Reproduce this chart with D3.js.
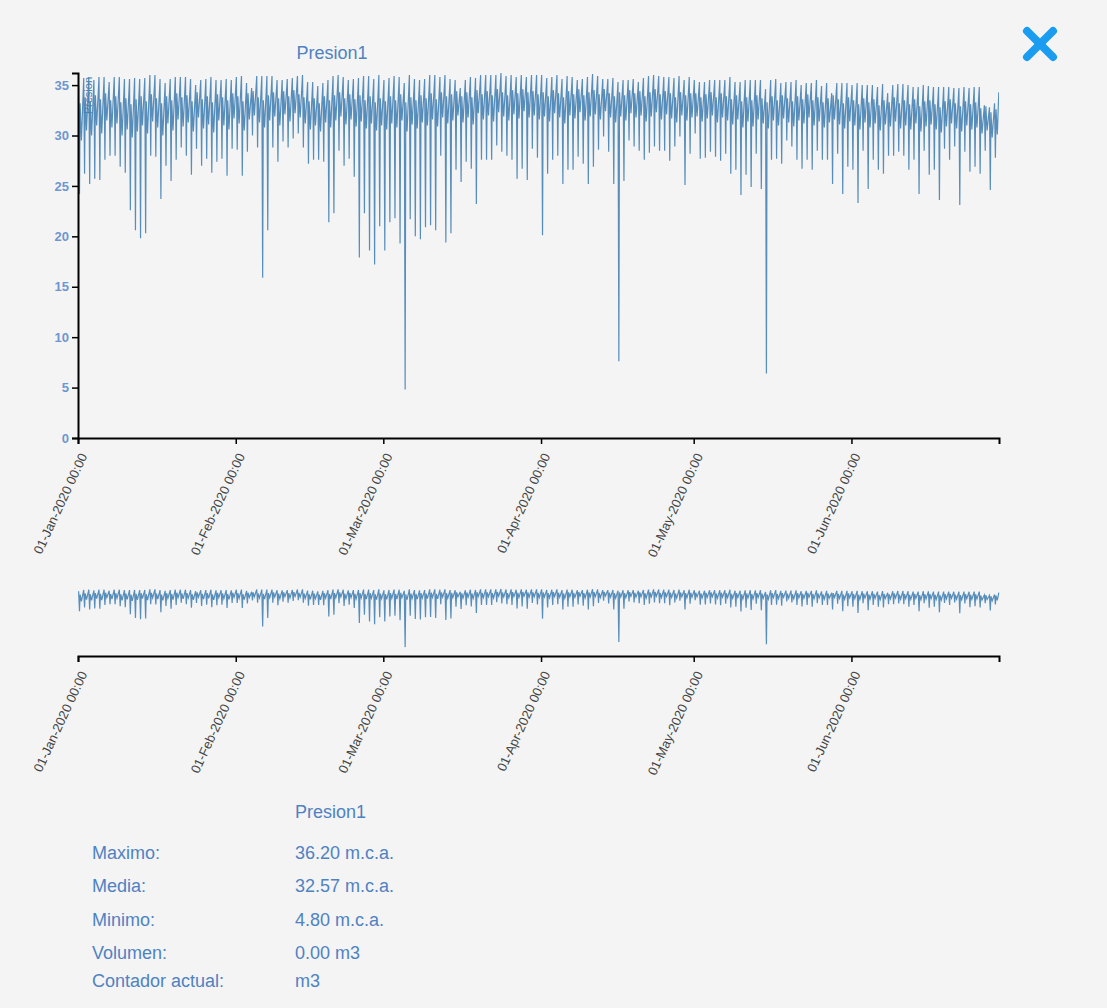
<!DOCTYPE html>
<html>
<head>
<meta charset="utf-8">
<script src="https://cdnjs.cloudflare.com/ajax/libs/d3/7.8.5/d3.min.js"></script>
<style>
  body { margin: 0; background: #f4f4f4; font-family: "Liberation Sans", Arial, sans-serif; }
  .axis path, .axis line { stroke: #000; }
  .axis path { stroke-width: 2; }
  .axis line { stroke-width: 1.5; }
  .y-axis text { fill: #6e96d0; font-weight: bold; font-size: 13px; }
  .x-axis text { fill: #444; font-size: 13px; }
  .title, .stats text { fill: #4f82c2; font-size: 18px; }
</style>
</head>
<body>
<div id="chart"></div>
<script>
// series: one entry per day, 01-Jan-2020 .. 29-Jun-2020
const startDay = new Date(2020, 0, 1);
const endDay = new Date(2020, 5, 30);

// night peak of each day (m.c.a.)
const dayMax = [
  35.0, 35.7, 35.8, 35.5, 35.8, 35.8, 35.3, 35.8, 35.8, 35.6, 35.6, 35.7, 35.6, 35.7, 36.0, 36.0, 35.6, 35.2, 35.6, 35.8,
  35.8, 35.8, 35.6, 35.0, 35.5, 35.6, 35.8, 35.5, 35.5, 35.6, 35.5, 35.8, 35.9, 35.2, 34.7, 35.9, 35.9, 35.9, 35.9, 35.5,
  35.5, 35.6, 35.7, 35.9, 36.0, 35.3,
  35.3, 34.9, 35.2, 35.5, 35.9, 36.0, 35.8, 35.5, 35.6, 35.7, 35.9, 35.9, 35.6, 36.0, 35.5, 35.7, 35.9, 35.8, 35.2, 36.0,
  35.6, 35.5, 35.6, 36.0, 36.0, 35.8, 36.0, 35.6, 35.5, 34.7, 35.5, 35.8, 35.7, 36.0, 36.0, 36.0, 36.0, 36.2, 35.9, 36.0,
  35.8, 36.0, 35.8, 36.0, 36.0, 36.0, 35.7,
  35.8, 36.0, 35.6, 35.9, 35.8, 35.5, 35.6, 35.8, 36.1, 35.9, 35.6, 35.6, 35.7, 35.3, 35.5, 35.5, 35.6, 35.3, 35.7, 35.9,
  36.0, 35.9, 35.8, 35.8, 35.7, 35.9, 35.5, 35.8, 35.5, 35.3, 35.3, 35.5, 35.5, 35.5, 35.5, 35.8, 35.3, 35.3, 35.5, 35.5,
  35.5, 35.5, 34.6,
  35.5, 35.6, 35.2, 35.3, 35.3, 35.5, 35.0, 35.2, 35.2, 35.5, 34.9, 35.2, 34.2, 35.2, 35.2, 35.2, 35.0, 35.2, 35.0, 35.0,
  35.0, 34.8, 35.1, 34.2, 35.0, 35.1, 35.1, 35.0, 34.8, 34.8, 35.0, 34.9, 34.8, 34.8, 34.8, 34.8, 34.7, 34.7, 34.8, 34.7,
  34.8, 34.8, 33.0, 32.8, 33.2
];

// morning dip of each day
const dayMin = [
  24.2, 26.2, 25.2, 25.7, 25.6, 27.6, 28.0, 28.0, 26.9, 26.3, 22.6, 20.6, 19.8, 20.3, 28.0, 27.9, 23.7, 27.0, 25.5, 27.6,
  28.8, 28.0, 26.1, 28.7, 27.0, 27.7, 26.3, 27.4, 27.7, 26.0, 28.7, 28.6, 26.0, 28.4, 30.0, 28.8, 15.9, 20.6, 28.8, 27.4,
  29.4, 28.8, 29.7, 30.2, 28.8, 27.2,
  27.6, 27.6, 27.4, 21.4, 22.3, 28.5, 27.0, 27.7, 25.9, 17.9, 22.3, 18.6, 17.2, 21.0, 18.6, 21.4, 21.8, 19.3, 4.8, 21.7,
  20.0, 19.7, 20.9, 21.1, 20.6, 28.0, 19.4, 20.3, 26.6, 25.4, 27.4, 26.7, 23.2, 27.6, 27.6, 27.6, 29.0, 28.4, 28.0, 27.6,
  25.7, 26.7, 25.6, 28.7, 27.8, 20.1, 26.2,
  27.6, 28.0, 25.2, 26.6, 26.6, 27.9, 27.2, 25.2, 26.9, 28.6, 29.9, 28.4, 25.2, 7.6, 25.5, 29.5, 28.9, 28.5, 27.6, 28.3,
  28.9, 28.5, 28.5, 27.5, 28.9, 29.9, 25.1, 28.2, 30.2, 27.7, 27.8, 28.4, 27.9, 27.5, 28.2, 26.2, 26.6, 24.1, 26.1, 24.9,
  28.2, 24.7, 6.4,
  27.6, 27.7, 27.2, 29.5, 28.9, 27.6, 26.7, 27.6, 26.6, 28.5, 27.6, 27.6, 25.2, 28.2, 24.2, 26.9, 26.6, 23.3, 28.5, 24.7,
  27.6, 26.6, 26.2, 28.0, 28.0, 28.4, 28.0, 26.6, 27.6, 24.2, 28.5, 26.1, 26.6, 23.6, 28.7, 27.6, 28.9, 23.1, 28.4, 26.4,
  26.9, 26.2, 28.5, 24.6, 27.8
];

// late-morning recovery of each day
const dayRecover = [
  33.2, 33.8, 33.4, 34.0, 33.6, 34.2, 33.5, 33.9, 33.3, 33.7, 33.1, 33.6, 33.9, 33.4, 34.1, 33.7, 33.2, 33.9, 33.5, 34.2,
  33.8, 34.0, 33.4, 34.3, 33.6, 33.9, 33.3, 34.1, 33.8, 33.5, 34.2,
  33.9, 33.4, 34.2, 34.4, 33.8, 33.5, 34.0, 34.3, 33.7, 34.4, 33.9, 34.5, 34.1, 33.8, 33.4, 33.7, 33.2, 33.9, 33.5, 34.0,
  34.3, 33.7, 34.1, 33.6, 34.0, 33.5, 33.9, 33.3, 33.7,
  33.4, 33.9, 33.5, 34.1, 33.3, 33.8, 33.5, 34.0, 33.7, 34.2, 33.6, 34.3, 33.9, 34.1, 34.4, 33.9, 34.3, 33.8, 34.5, 34.1,
  34.4, 34.0, 34.6, 34.3, 34.0, 34.5, 34.2, 34.6, 34.3, 34.4, 34.1,
  34.3, 33.9, 34.5, 34.2, 33.8, 34.4, 34.1, 34.6, 34.0, 34.3, 34.5, 34.1, 34.6, 34.2, 33.9, 34.3, 34.0, 34.5, 34.2, 34.4,
  33.9, 34.3, 34.6, 34.1, 34.4, 34.2, 33.8, 34.3, 34.0, 34.2,
  34.2, 33.8, 34.1, 34.3, 33.8, 34.2, 33.9, 33.6, 34.0, 33.4, 33.8, 33.5, 34.0, 33.7, 33.3, 33.9, 33.5, 34.0, 33.7, 33.4,
  33.9, 33.6, 34.1, 33.5, 33.8, 33.3, 33.7, 34.0, 33.6, 33.2, 33.8,
  33.5, 33.1, 33.7, 33.3, 33.6, 33.0, 33.5, 33.3, 33.8, 33.2, 33.5, 33.1, 33.6, 32.9, 33.4, 33.5, 33.1, 32.8, 33.4, 33.6,
  33.2, 32.9, 33.4, 33.1, 33.3, 32.7, 32.9, 32.3, 32.6
];

// afternoon level of each day
const dayLow = [
  29.5, 30.5, 30.0, 31.0, 30.2, 31.5, 30.8, 31.2, 30.0, 30.6, 29.8, 30.4, 31.0, 30.2, 31.4, 30.8, 30.0, 31.2, 30.5, 31.6,
  30.9, 31.3, 30.4, 31.8, 30.7, 31.1, 30.3, 31.5, 31.0, 30.6, 31.7,
  31.2, 30.5, 31.6, 32.0, 31.3, 30.8, 31.5, 31.9, 31.0, 32.1, 31.4, 32.2, 31.8, 31.2, 30.6, 31.0, 30.4, 31.3, 30.8, 31.5,
  31.9, 31.1, 31.6, 30.9, 31.4, 30.7, 31.2, 30.5, 31.0,
  30.6, 31.2, 30.8, 31.5, 30.4, 31.1, 30.7, 31.3, 31.0, 31.6, 30.9, 31.8, 31.2, 31.5, 32.0, 31.3, 31.8, 31.1, 32.2, 31.6,
  32.0, 31.4, 32.3, 31.9, 31.5, 32.1, 31.7, 32.4, 31.8, 32.0, 31.6,
  31.9, 31.4, 32.2, 31.8, 31.2, 32.0, 31.7, 32.3, 31.5, 31.9, 32.1, 31.6, 32.4, 31.8, 31.3, 31.9, 31.5, 32.2, 31.8, 32.0,
  31.4, 31.9, 32.3, 31.6, 32.1, 31.7, 31.3, 32.0, 31.5, 31.8,
  31.9, 31.4, 31.7, 32.0, 31.3, 31.8, 31.5, 31.1, 31.6, 30.8, 31.4, 30.9, 31.6, 31.2, 30.7, 31.5, 31.0, 31.7, 31.3, 30.9,
  31.5, 31.2, 31.8, 31.0, 31.4, 30.8, 31.3, 31.6, 31.1, 30.7, 31.4,
  31.0, 30.6, 31.3, 30.8, 31.2, 30.5, 31.1, 30.9, 31.4, 30.7, 31.0, 30.6, 31.2, 30.4, 30.9, 31.1, 30.6, 30.3, 30.9, 31.2,
  30.7, 30.4, 31.0, 30.6, 30.8, 30.2, 30.5, 29.8, 30.1
];
const lastValue = 34.3;

const seriesName = "Presion1";
const statLabels = ["Maximo:", "Media:", "Minimo:", "Volumen:", "Contador actual:"];
const statValues = ["36.20 m.c.a.", "32.57 m.c.a.", "4.80 m.c.a.", "0.00 m3", "m3"];

// build the point list: peak 03h, dip 07h, recovery 10h, afternoon level 16h
let data = [];
dayMax.forEach((v, i) => {
  let day = d3.timeDay.offset(startDay, i);
  data.push({ date: d3.timeHour.offset(day, 3), value: v });
  data.push({ date: d3.timeHour.offset(day, 7), value: dayMin[i] });
  data.push({ date: d3.timeHour.offset(day, 10), value: dayRecover[i] });
  data.push({ date: d3.timeHour.offset(day, 16), value: dayLow[i] });
});
data.push({ date: d3.timeHour.offset(endDay, -1), value: lastValue });

const width = 1107, height = 1008;
const margin = { left: 78, right: 108, top: 73 };
const mainH = 365;
const ctxTop = 589, ctxH = 67;

const svg = d3.select("#chart").append("svg")
  .attr("width", width)
  .attr("height", height);

svg.append("defs").append("clipPath")
  .attr("id", "clip")
  .append("rect")
  .attr("width", width - margin.left - margin.right)
  .attr("height", mainH);

const x = d3.scaleTime()
  .domain([startDay, endDay])
  .range([0, width - margin.left - margin.right]);
const y = d3.scaleLinear()
  .domain([0, d3.max(data, d => d.value)])
  .range([mainH, 0]);
const y2 = d3.scaleLinear()
  .domain(y.domain())
  .range([ctxH, 0]);

const fmt = d3.timeFormat("%d-%b-%Y %H:%M");
const xAxis = d3.axisBottom(x).ticks(d3.timeMonth.every(1)).tickFormat(fmt);

function styleXLabels(g) {
  g.selectAll("text")
    .attr("x", 0).attr("y", 0).attr("dy", null)
    .style("text-anchor", "end")
    .attr("transform", "translate(9,18) rotate(-65)");
}

// title
svg.append("text")
  .attr("class", "title")
  .attr("x", 332)
  .attr("y", 59)
  .attr("text-anchor", "middle")
  .text(seriesName);

// main chart
const focus = svg.append("g")
  .attr("transform", `translate(${margin.left},${margin.top})`);

let line = d3.line()
  .x(d => x(d.date))
  .y(d => y(d.value));

focus.append("path")
  .datum(data)
  .attr("clip-path", "url(#clip)")
  .attr("fill", "none")
  .attr("stroke", "steelblue")
  .attr("stroke-opacity", 0.9)
  .attr("stroke-width", 1.2)
  .attr("d", line);

focus.append("g")
  .attr("class", "axis x-axis")
  .attr("transform", `translate(0,${mainH})`)
  .call(xAxis)
  .call(styleXLabels);

focus.append("g")
  .attr("class", "axis y-axis")
  .call(d3.axisLeft(y).tickValues(d3.range(0, 36, 5)));

focus.append("text")
  .attr("transform", "rotate(-90)")
  .attr("y", 6)
  .attr("dy", ".71em")
  .attr("x", -4)
  .style("text-anchor", "end")
  .style("font-size", "11px")
  .attr("fill", "steelblue")
  .text("Presion");

// context chart
const context = svg.append("g")
  .attr("transform", `translate(${margin.left},${ctxTop})`);

let line2 = d3.line()
  .x(d => x(d.date))
  .y(d => y2(d.value));

context.append("path")
  .datum(data)
  .attr("fill", "none")
  .attr("stroke", "steelblue")
  .attr("stroke-opacity", 0.9)
  .attr("stroke-width", 1.2)
  .attr("d", line2);

context.append("g")
  .attr("class", "axis x-axis")
  .attr("transform", `translate(0,${ctxH})`)
  .call(xAxis)
  .call(styleXLabels);

// close icon
const close = svg.append("g")
  .attr("stroke", "#1a9cf0")
  .attr("stroke-width", 8)
  .attr("stroke-linecap", "round");
close.append("line").attr("x1", 1027).attr("y1", 31).attr("x2", 1053).attr("y2", 57);
close.append("line").attr("x1", 1053).attr("y1", 31).attr("x2", 1027).attr("y2", 57);

// stats
const stats = svg.append("g").attr("class", "stats");
stats.append("text")
  .attr("x", 295)
  .attr("y", 818)
  .text(seriesName);

const rowY = [859, 892, 926, 959, 987];
stats.selectAll(".lbl")
  .data(statLabels)
  .join("text")
  .attr("class", "lbl")
  .attr("x", 92)
  .attr("y", (d, i) => rowY[i])
  .text(d => d);
stats.selectAll(".val")
  .data(statValues)
  .join("text")
  .attr("class", "val")
  .attr("x", 295)
  .attr("y", (d, i) => rowY[i])
  .text(d => d);
</script>
</body>
</html>
